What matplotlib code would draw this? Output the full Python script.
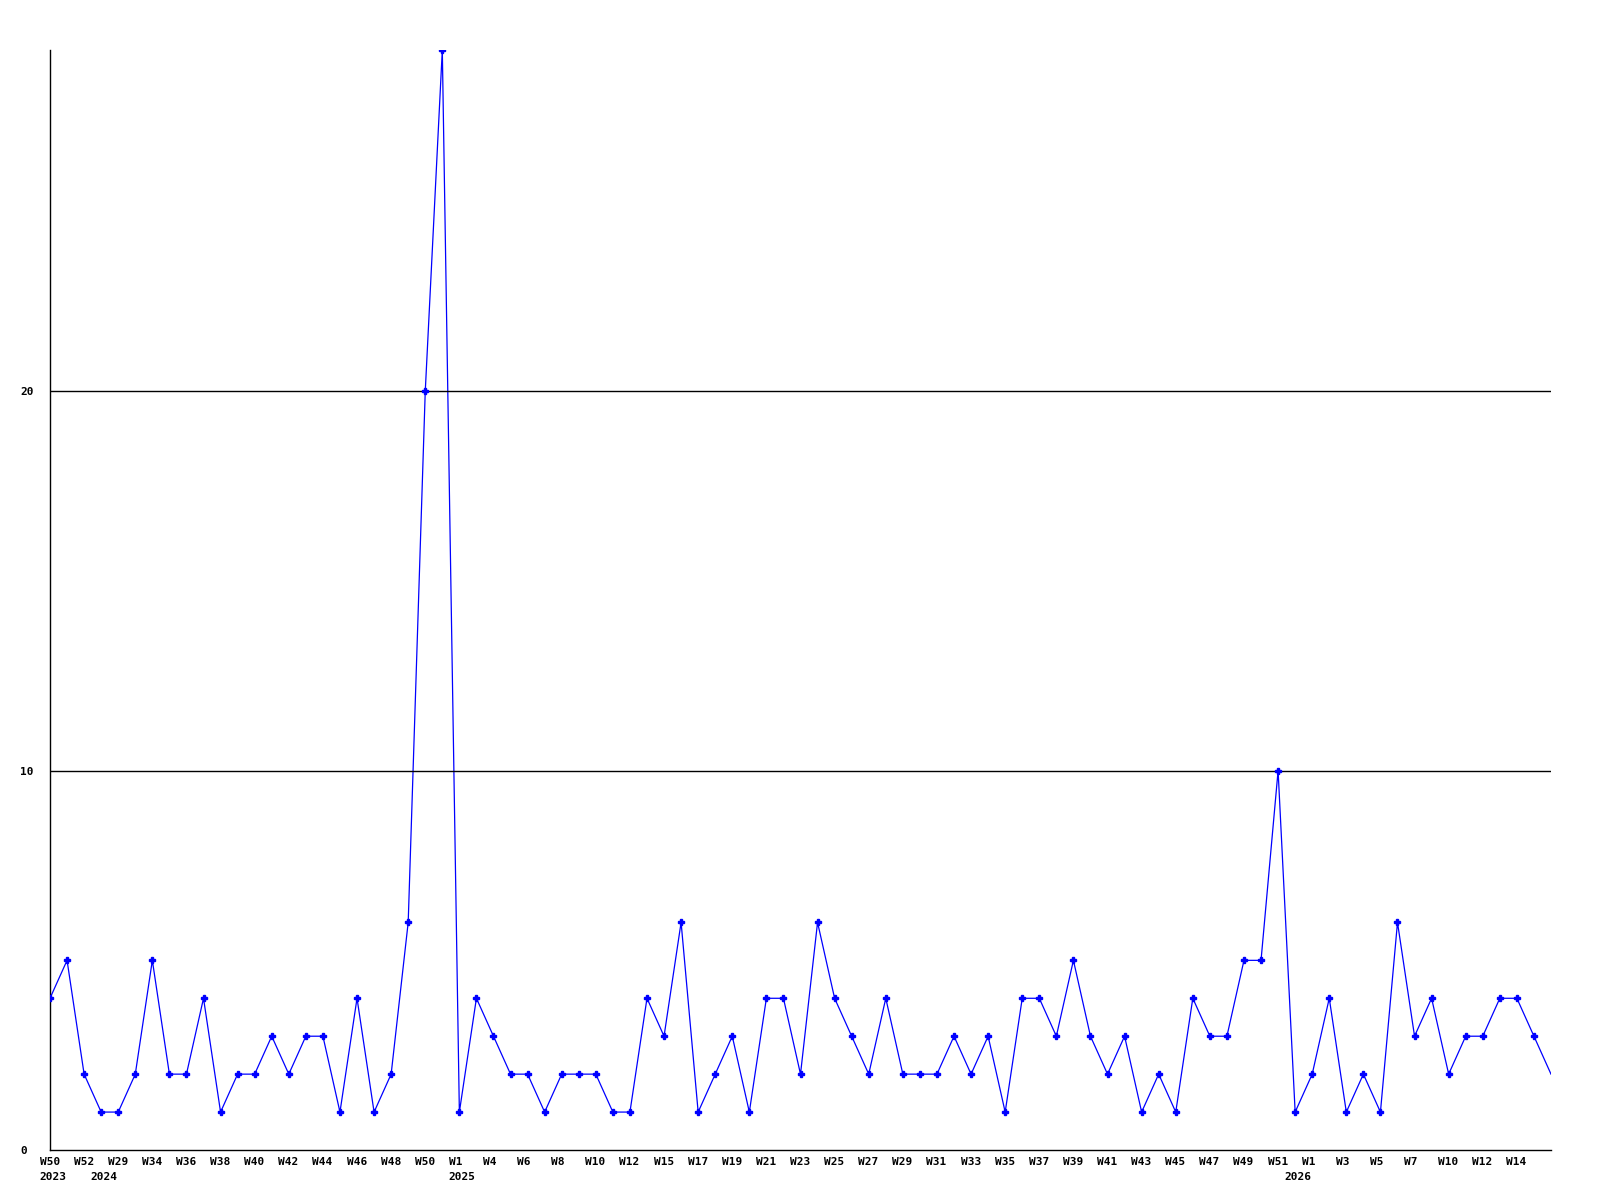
import matplotlib
matplotlib.use("Agg")
import matplotlib.pyplot as plt
from matplotlib.transforms import ScaledTranslation

values = [4, 5, 2, 1, 1, 2, 5, 2, 2, 4, 1, 2, 2, 3, 2, 3, 3, 1, 4, 1, 2, 6, 20, 29,
          1, 4, 3, 2, 2, 1, 2, 2, 2, 1, 1, 4, 3, 6, 1, 2, 3, 1, 4, 4, 2, 6, 4, 3,
          2, 4, 2, 2, 2, 3, 2, 3, 1, 4, 4, 3, 5, 3, 2, 3, 1, 2, 1, 4, 3, 3, 5, 5,
          10, 1, 2, 4, 1, 2, 1, 6, 3, 4, 2, 3, 3, 4, 4, 3, 2]

week_labels = ["W50", "W52", "W29", "W34", "W36", "W38", "W40", "W42", "W44", "W46",
               "W48", "W50", "W1", "W4", "W6", "W8", "W10", "W12", "W15", "W17",
               "W19", "W21", "W23", "W25", "W27", "W29", "W31", "W33", "W35", "W37",
               "W39", "W41", "W43", "W45", "W47", "W49", "W51", "W1", "W3", "W5",
               "W7", "W10", "W12", "W14"]

year_positions = [0, 3, 24, 73]
year_labels = ["2023", "2024", "2025", "2026"]

y_ticks = [0, 10, 20]

fig = plt.figure(figsize=(16, 12), dpi=100)
ax = fig.add_axes([50 / 1600, 1 - 1150 / 1200, 1501 / 1600, 1100 / 1200])

x = list(range(len(values)))
ax.plot(x, values, color="#0000ff", lw=0.9, zorder=2)
ax.plot(x[:-1], values[:-1], ls="none", marker="P", ms=4, color="#0000ff",
        mec="#0000ff", zorder=4)

for yv in y_ticks[1:]:
    ax.axhline(yv, color="black", lw=1.0, zorder=3)

ax.set_xlim(0, len(values) - 1)
ax.set_ylim(0, 29)

for s in ["top", "right"]:
    ax.spines[s].set_visible(False)
ax.spines["left"].set_linewidth(1.0)
ax.spines["bottom"].set_linewidth(1.0)

mono = ["DejaVu Sans Mono"]
off = ScaledTranslation(-10.5 / 100, 0, fig.dpi_scale_trans)

# week labels every second point
ax.xaxis.remove_overlapping_locs = False
ax.set_xticks([2 * i for i in range(len(week_labels))])
ax.set_xticklabels(week_labels, fontsize=8, fontweight="bold", family=mono)
ax.tick_params(axis="x", which="major", length=0, pad=5)

# year labels on a second row
ax.set_xticks(year_positions, minor=True)
ax.set_xticklabels(year_labels, minor=True, fontsize=8, fontweight="bold", family=mono)
ax.tick_params(axis="x", which="minor", length=0, pad=15.5)

for t in ax.get_xticklabels() + ax.get_xticklabels(minor=True):
    t.set_horizontalalignment("left")
    t.set_verticalalignment("top")
    t.set_transform(t.get_transform() + off)

ax.set_yticks(y_ticks)
ax.set_yticklabels([str(v) for v in y_ticks], fontsize=8, fontweight="bold", family=mono)
ax.tick_params(axis="y", length=0, pad=21.6)
for t in ax.get_yticklabels():
    t.set_horizontalalignment("left")

fig.savefig("out.png", dpi=100, facecolor="white")
